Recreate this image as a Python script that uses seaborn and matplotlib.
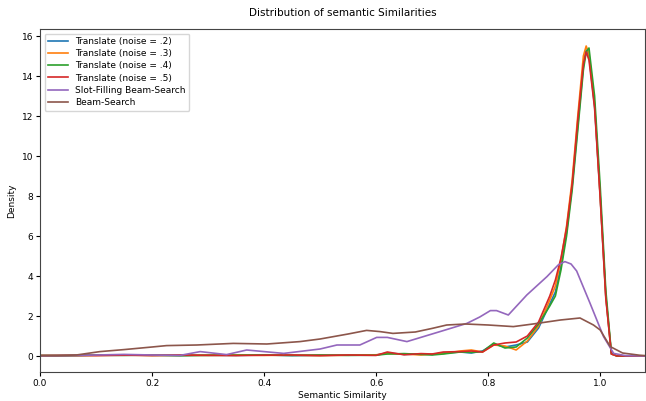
import numpy as np
import pandas as pd
import matplotlib
matplotlib.use("Agg")
import matplotlib.pyplot as plt
import seaborn as sns

series_names = ["Translate (noise = .2)", "Translate (noise = .3)", "Translate (noise = .4)",
                "Translate (noise = .5)", "Slot-Filling Beam-Search", "Beam-Search"]

x_translate = [0, 0.05, 0.1, 0.15, 0.2, 0.25, 0.3, 0.35, 0.4, 0.45, 0.5, 0.55, 0.6, 0.62, 0.65,
               0.68, 0.7, 0.72, 0.75, 0.77, 0.79, 0.81, 0.83, 0.85, 0.87, 0.89, 0.91, 0.92, 0.93,
               0.94, 0.95, 0.96, 0.97, 0.975, 0.98, 0.99, 1.0, 1.01, 1.02, 1.03, 1.05, 1.08]
y_t02 = [0.02, 0.02, 0.05, 0.05, 0.03, 0.02, 0.05, 0.03, 0.05, 0.02, 0.03, 0.05, 0.05, 0.15, 0.08,
         0.1, 0.08, 0.15, 0.2, 0.15, 0.25, 0.6, 0.45, 0.55, 0.7, 1.4, 2.6, 3.2, 4.5,
         6.2, 8.5, 11.5, 14.5, 15.3, 15.0, 12.5, 8.0, 3.0, 0.1, 0.0, 0.0, 0.0]
y_t03 = [0.02, 0.02, 0.03, 0.05, 0.02, 0.03, 0.04, 0.05, 0.03, 0.04, 0.02, 0.04, 0.06, 0.12, 0.1,
         0.05, 0.1, 0.12, 0.25, 0.3, 0.2, 0.55, 0.5, 0.3, 0.75, 1.5, 2.8, 3.5, 4.8,
         6.5, 8.8, 12.0, 15.0, 15.5, 15.1, 12.6, 8.0, 3.0, 0.1, 0.0, 0.0, 0.0]
y_t04 = [0.02, 0.02, 0.04, 0.03, 0.05, 0.02, 0.03, 0.04, 0.05, 0.03, 0.05, 0.03, 0.04, 0.1, 0.12,
         0.08, 0.05, 0.1, 0.2, 0.18, 0.22, 0.65, 0.4, 0.45, 0.9, 1.6, 2.5, 3.0, 4.3,
         6.0, 8.3, 11.3, 14.3, 15.2, 15.4, 13.0, 8.5, 3.3, 0.15, 0.0, 0.0, 0.0]
y_t05 = [0.02, 0.03, 0.02, 0.04, 0.03, 0.05, 0.03, 0.02, 0.04, 0.05, 0.02, 0.05, 0.03, 0.2, 0.06,
         0.12, 0.1, 0.2, 0.22, 0.25, 0.2, 0.55, 0.65, 0.7, 1.0, 1.7, 3.0, 3.8, 4.9,
         6.4, 8.6, 11.8, 14.6, 15.2, 14.8, 12.4, 7.9, 2.9, 0.1, 0.0, 0.0, 0.0]

x_slot = [0, 0.05, 0.1, 0.15, 0.2, 0.25, 0.286, 0.333, 0.369, 0.435, 0.5, 0.53, 0.571, 0.601, 0.62,
          0.655, 0.714, 0.762, 0.785, 0.804, 0.815, 0.836, 0.869, 0.905, 0.925, 0.937, 0.948,
          0.958, 0.982, 1.006, 1.024, 1.045, 1.08]
y_slot = [0.01, 0.02, 0.05, 0.08, 0.05, 0.03, 0.22, 0.07, 0.3, 0.13, 0.35, 0.55, 0.55, 0.93, 0.93,
          0.72, 1.22, 1.63, 1.95, 2.27, 2.27, 2.05, 3.05, 3.97, 4.55, 4.72, 4.6,
          4.25, 2.63, 0.97, 0.13, 0.02, 0.0]

x_beam = [0, 0.03, 0.065, 0.107, 0.15, 0.2, 0.226, 0.28, 0.345, 0.405, 0.464, 0.5, 0.524, 0.55,
          0.583, 0.607, 0.63, 0.67, 0.7, 0.726, 0.76, 0.8, 0.845, 0.88, 0.929, 0.964, 0.988, 1.0,
          1.018, 1.04, 1.07, 1.08]
y_beam = [0.02, 0.02, 0.05, 0.22, 0.32, 0.45, 0.52, 0.55, 0.63, 0.6, 0.72, 0.85, 0.97, 1.1,
          1.28, 1.22, 1.13, 1.2, 1.38, 1.55, 1.6, 1.55, 1.47, 1.6, 1.8, 1.9, 1.55, 1.3,
          0.47, 0.15, 0.04, 0.02]

frames = []
for name, xs, ys in [(series_names[0], x_translate, y_t02), (series_names[1], x_translate, y_t03),
                     (series_names[2], x_translate, y_t04), (series_names[3], x_translate, y_t05),
                     (series_names[4], x_slot, y_slot), (series_names[5], x_beam, y_beam)]:
    frames.append(pd.DataFrame({"Semantic Similarity": xs, "Density": ys, "series": name}))
df = pd.concat(frames, ignore_index=True)

plt.rcParams["font.family"] = ["DejaVu Sans"]
fig = plt.figure(figsize=(6.46, 4.01), dpi=100)
ax = fig.add_axes([40 / 646, (401 - 372) / 401, 605 / 646, (372 - 29) / 401])
palette = sns.color_palette("tab10", 6)
sns.lineplot(data=df, x="Semantic Similarity", y="Density", hue="series", hue_order=series_names,
             palette=palette, ax=ax, linewidth=1.2, sort=False, estimator=None)
ax.set_xlim(0, 1.08)
ax.set_ylim(-0.8, 16.35)
ax.set_xticks([0.0, 0.2, 0.4, 0.6, 0.8, 1.0])
ax.set_yticks([0, 2, 4, 6, 8, 10, 12, 14, 16])
ax.tick_params(labelsize=6.5, length=3, pad=2)
for s in ax.spines.values():
    s.set_color("#444444")
ax.set_xlabel("Semantic Similarity", fontsize=6.5, labelpad=2)
ax.set_ylabel("Density", fontsize=6.5, labelpad=4)
ax.set_title("Distribution of semantic Similarities", fontsize=7.5, pad=9)
ax.legend(title=None, loc="upper left", fontsize=6.5, handlelength=2.2, borderpad=0.4,
          labelspacing=0.35)
fig.savefig("out.png", dpi=100)
